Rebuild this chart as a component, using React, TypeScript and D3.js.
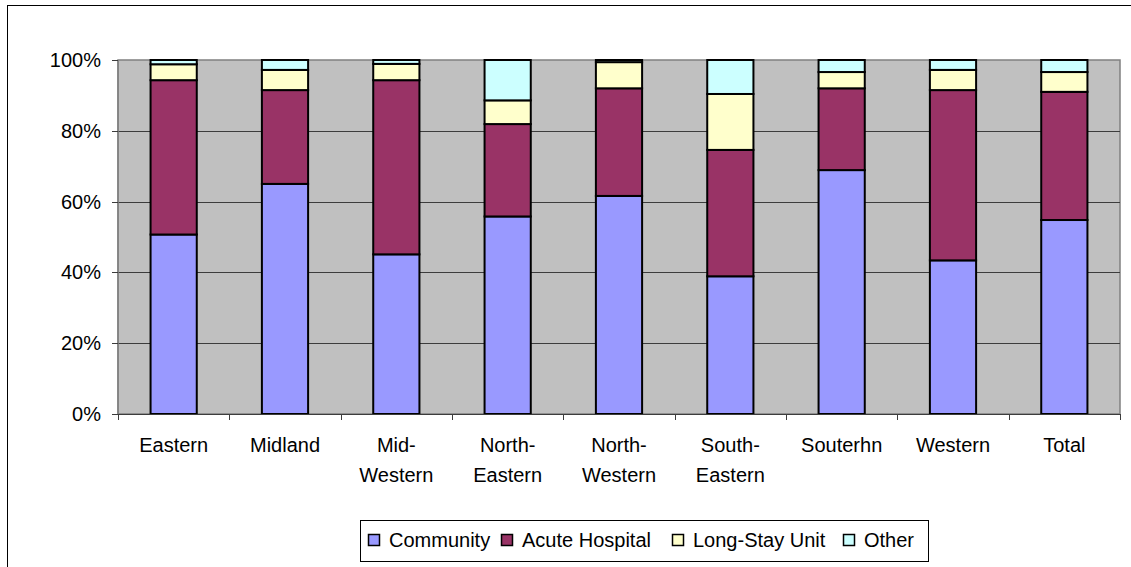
import React, { useEffect, useRef } from 'react'
import * as d3 from 'd3'

const categories = [
  ['Eastern'],
  ['Midland'],
  ['Mid-', 'Western'],
  ['North-', 'Eastern'],
  ['North-', 'Western'],
  ['South-', 'Eastern'],
  ['Souterhn'],
  ['Western'],
  ['Total']
]
const seriesNames = ['Community', 'Acute Hospital', 'Long-Stay Unit', 'Other']
const community = [50.7, 65.0, 45.1, 55.8, 61.6, 38.9, 68.9, 43.4, 54.8]
const acuteHospital = [43.6, 26.5, 49.2, 26.1, 30.4, 35.7, 23.1, 48.1, 36.2]
const longStayUnit = [4.5, 5.7, 4.6, 6.7, 7.4, 15.8, 4.6, 5.7, 5.6]
const other = [1.2, 2.8, 1.1, 11.4, 0.6, 9.6, 3.4, 2.8, 3.4]
const yTicks = [0, 20, 40, 60, 80, 100]
const colors = ['#9999ff', '#993366', '#ffffcc', '#ccffff']

const W = 1131
const H = 567
const margin = { left: 118, right: 11, top: 60, bottom: 153 }
const FONT = 'Liberation Sans, Arial, sans-serif'

// legend swatch left x, as laid out in the original
const legendX = [368, 501, 672, 843]

const App = () => {
  const ref = useRef<SVGSVGElement>(null)

  useEffect(() => {
    const svg = d3.select(ref.current)
    svg.selectAll('*').remove()

    const x0 = margin.left
    const x1 = W - margin.right
    const y0 = margin.top
    const y1 = H - margin.bottom

    const keys = categories.map(c => c.join(''))
    const rows = keys.map((k, i) => ({
      key: k,
      Community: community[i],
      'Acute Hospital': acuteHospital[i],
      'Long-Stay Unit': longStayUnit[i],
      Other: other[i]
    }))
    const stacked = d3.stack<any>().keys(seriesNames)(rows)

    const xScale = d3.scaleBand().domain(keys).range([x0, x1]).paddingInner(0.585).paddingOuter(0.2925)
    const yScale = d3.scaleLinear().domain([0, 100]).range([y1, y0])

    // outer chart border
    svg
      .append('rect')
      .attr('x', 7.5)
      .attr('y', 5.5)
      .attr('width', W + 10)
      .attr('height', H + 10)
      .attr('fill', '#fff')
      .attr('stroke', '#000')
      .attr('stroke-width', 1)

    // plot area
    svg
      .append('rect')
      .attr('x', x0)
      .attr('y', y0)
      .attr('width', x1 - x0)
      .attr('height', y1 - y0)
      .attr('fill', '#c0c0c0')
      .attr('stroke', '#808080')
      .attr('stroke-width', 1.5)

    // gridlines
    svg
      .append('g')
      .selectAll('line')
      .data(yTicks.filter(t => t > 0 && t < 100))
      .join('line')
      .attr('x1', x0)
      .attr('x2', x1)
      .attr('y1', d => Math.round(yScale(d)) + 0.5)
      .attr('y2', d => Math.round(yScale(d)) + 0.5)
      .attr('stroke', '#3c3c3c')
      .attr('stroke-width', 1)

    // bars
    svg
      .append('g')
      .selectAll('g')
      .data(stacked)
      .join('g')
      .attr('fill', (_d, i) => colors[i])
      .selectAll('rect')
      .data(d => d)
      .join('rect')
      .attr('x', d => xScale(d.data.key) as number)
      .attr('width', xScale.bandwidth())
      .attr('y', d => yScale(d[1]))
      .attr('height', d => yScale(d[0]) - yScale(d[1]))
      .attr('stroke', '#000')
      .attr('stroke-width', 2)

    // y axis
    const yAxis = svg.append('g')
    yAxis
      .append('line')
      .attr('x1', x0)
      .attr('x2', x0)
      .attr('y1', y0)
      .attr('y2', y1)
      .attr('stroke', '#808080')
      .attr('stroke-width', 1.5)
    yAxis
      .selectAll('line.tick')
      .data(yTicks)
      .join('line')
      .attr('class', 'tick')
      .attr('x1', x0 - 6)
      .attr('x2', x0)
      .attr('y1', d => Math.round(yScale(d)) + 0.5)
      .attr('y2', d => Math.round(yScale(d)) + 0.5)
      .attr('stroke', '#3c3c3c')
    yAxis
      .selectAll('text')
      .data(yTicks)
      .join('text')
      .attr('x', x0 - 17)
      .attr('y', d => yScale(d) + 7)
      .attr('text-anchor', 'end')
      .attr('font-family', FONT)
      .attr('font-size', 20)
      .attr('fill', '#000')
      .text(d => `${d}%`)

    // x axis
    const xAxis = svg.append('g')
    xAxis
      .append('line')
      .attr('x1', x0)
      .attr('x2', x1)
      .attr('y1', y1 + 0.5)
      .attr('y2', y1 + 0.5)
      .attr('stroke', '#3c3c3c')
      .attr('stroke-width', 1)
    const step = xScale.step()
    xAxis
      .selectAll('line.tick')
      .data(d3.range(keys.length + 1))
      .join('line')
      .attr('class', 'tick')
      .attr('x1', i => Math.round(x0 + i * step) + 0.5)
      .attr('x2', i => Math.round(x0 + i * step) + 0.5)
      .attr('y1', y1)
      .attr('y2', y1 + 6)
      .attr('stroke', '#3c3c3c')
    const labels = xAxis
      .selectAll('text')
      .data(categories)
      .join('text')
      .attr('text-anchor', 'middle')
      .attr('font-family', FONT)
      .attr('font-size', 20)
      .attr('fill', '#000')
    labels
      .selectAll('tspan')
      .data((d, i) => d.map(t => ({ t, i })))
      .join('tspan')
      .attr('x', d => (xScale(keys[d.i]) as number) + xScale.bandwidth() / 2)
      .attr('y', (_d, j) => y1 + 38 + j * 30)
      .text(d => d.t)

    // legend
    const legend = svg.append('g')
    legend
      .append('rect')
      .attr('x', 360.5)
      .attr('y', 520.5)
      .attr('width', 568)
      .attr('height', 41)
      .attr('fill', '#fff')
      .attr('stroke', '#000')
      .attr('stroke-width', 1)
    seriesNames.forEach((name, i) => {
      const lx = legendX[i]
      legend
        .append('rect')
        .attr('x', lx + 0.5)
        .attr('y', 534.5)
        .attr('width', 11)
        .attr('height', 11)
        .attr('fill', colors[i])
        .attr('stroke', '#000')
        .attr('stroke-width', 1.5)
      legend
        .append('text')
        .attr('x', lx + 21)
        .attr('y', 547)
        .attr('font-family', FONT)
        .attr('font-size', 20)
        .attr('fill', '#000')
        .text(name)
    })
  }, [])

  return (
    <div style={{ position: 'absolute', left: 0, top: 0 }}>
      <svg ref={ref} width={W} height={H} style={{ display: 'block' }} />
    </div>
  )
}

export default App
